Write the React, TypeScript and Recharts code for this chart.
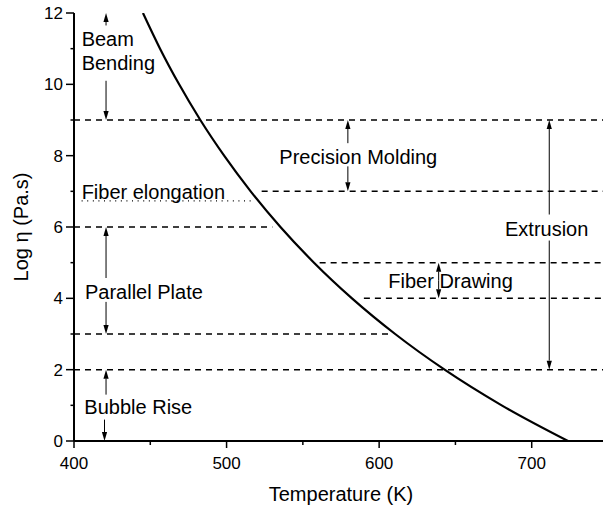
import React from 'react';
import { ComposedChart, Line, XAxis, YAxis, ReferenceLine, ReferenceDot } from 'recharts';

// viscosity curve
const temperature = [445.2, 456.4, 468.9, 482.8, 498.4, 515.8, 535.3, 557.3, 582.2, 610.5, 642.9, 680.3, 723.8];
const logViscosity = [12, 11, 10, 9, 8, 7, 6, 5, 4, 3, 2, 1, 0];

const xTicks = [400, 450, 500, 550, 600, 650, 700, 750];
const xMajor = [400, 500, 600, 700];
const yTicks = [0, 1, 2, 3, 4, 5, 6, 7, 8, 9, 10, 11, 12];
const yMajor = [0, 2, 4, 6, 8, 10, 12];

// dashed working-point levels
const dashLevel = [9, 7, 6, 5, 4, 3, 2];
const dashFrom = [400, 523, 400, 561, 590, 400, 400];
const dashTo = [750, 750, 530, 750, 750, 607, 750];

// fiber elongation (dotted)
const dotLevel = 6.73;
const dotFrom = 405;
const dotTo = 516.5;

// arrows: stem start -> tip
const arrowT = [421, 421, 421, 421, 421, 420, 579.5, 579.5, 639, 639, 711.5, 711.5];
const arrowFrom = [11.65, 10.1, 4.57, 3.9, 1.3, 0.6, 8.35, 7.7, 4.5, 4.5, 6.35, 5.62];
const arrowTo = [12, 9, 6, 3, 2, 0, 9, 7, 5, 4, 9, 2];

// annotation texts (left edge, vertical centre)
const noteText = ['Beam', 'Bending', 'Fiber elongation', 'Parallel Plate', 'Bubble Rise', 'Precision Molding', 'Fiber Drawing', 'Extrusion'];
const noteT = [405, 405, 405, 407.2, 406.8, 534.6, 606, 682.5];
const noteLog = [11.29, 10.61, 6.99, 4.19, 0.96, 7.97, 4.48, 5.96];

const data = temperature.map((t, i) => ({ T: t, v: logViscosity[i] }));

const FONT = '"Liberation Sans", Arial, Helvetica, sans-serif';

const BottomTick = ({ x, y, payload }: any) => {
  const major = xMajor.includes(payload.value);
  return (
    <g>
      <line x1={x} x2={x} y1={y} y2={y + (major ? 7 : 4)} stroke="#000" strokeWidth={1.5} />
      {major && (
        <text x={x} y={y + 28} textAnchor="middle" fontSize={17} fontFamily={FONT} fill="#000">
          {payload.value}
        </text>
      )}
    </g>
  );
};

const TopTick = ({ x, y, payload }: any) => {
  const major = xMajor.includes(payload.value);
  return <line x1={x} x2={x} y1={y} y2={y + (major ? 7 : 3.5)} stroke="#000" strokeWidth={1.5} />;
};

const LeftTick = ({ x, y, payload }: any) => {
  const major = yMajor.includes(payload.value);
  return (
    <g>
      <line x1={x - (major ? 8 : 3.5)} x2={x} y1={y} y2={y} stroke="#000" strokeWidth={1.5} />
      {major && (
        <text x={x - 11} y={y} dy="0.36em" textAnchor="end" fontSize={17} fontFamily={FONT} fill="#000">
          {payload.value}
        </text>
      )}
    </g>
  );
};

const RightTick = ({ x, y, payload }: any) => {
  const major = yMajor.includes(payload.value);
  return <line x1={x - (major ? 9 : 4)} x2={x} y1={y} y2={y} stroke="#000" strokeWidth={1.5} />;
};

const Arrow = (p: any) => {
  const { x1, y1, x2, y2 } = p;
  const dir = y2 < y1 ? -1 : 1;
  const base = y2 - dir * 9;
  return (
    <g>
      <line x1={x1} y1={y1} x2={x2} y2={base} stroke="#000" strokeWidth={1} />
      <polygon points={`${x2},${y2} ${x2 - 2.6},${base} ${x2 + 2.6},${base}`} fill="#000" />
    </g>
  );
};

const noteShape = (text: string) => (p: any) => (
  <text x={p.cx} y={p.cy} dy="0.36em" fontSize={20} fontFamily={FONT} fill="#000">
    {text}
  </text>
);

const XTitle = (p: any) => {
  const vb = p.viewBox;
  return (
    <text x={vb.x + vb.width / 2} y={vb.y + 60} textAnchor="middle" fontSize={20} fontFamily={FONT} fill="#000">
      Temperature (K)
    </text>
  );
};

const YTitle = (p: any) => {
  const vb = p.viewBox;
  const cx = vb.x + 28;
  const cy = vb.y + vb.height / 2;
  return (
    <text x={cx} y={cy} transform={`rotate(-90 ${cx} ${cy})`} textAnchor="middle" fontSize={20} fontFamily={FONT} fill="#000">
      Log η (Pa.s)
    </text>
  );
};

export default function App() {
  return (
    <div style={{ position: 'absolute', left: 0, top: 0, width: 603, height: 510, overflow: 'hidden', background: '#fff' }}>
      <ComposedChart width={620} height={510} data={data} margin={{ top: 13, right: 12, bottom: 0, left: 0 }}>
        <XAxis
          dataKey="T"
          type="number"
          domain={[400, 750]}
          allowDataOverflow
          ticks={xTicks}
          interval={0}
          height={69}
          tickSize={0}
          tickMargin={0}
          tickLine={false}
          tick={BottomTick}
          axisLine={{ stroke: '#000', strokeWidth: 2 }}
          label={XTitle}
        />
        <XAxis
          xAxisId="top"
          orientation="top"
          dataKey="T"
          type="number"
          domain={[400, 750]}
          allowDataOverflow
          ticks={xTicks}
          interval={0}
          height={0}
          tickSize={0}
          tickMargin={0}
          tickLine={false}
          tick={TopTick}
          axisLine={{ stroke: '#000', strokeWidth: 2 }}
        />
        <YAxis
          type="number"
          domain={[0, 12]}
          allowDataOverflow
          ticks={yTicks}
          interval={0}
          width={74}
          tickSize={0}
          tickMargin={0}
          tickLine={false}
          tick={LeftTick}
          axisLine={{ stroke: '#000', strokeWidth: 2 }}
          label={YTitle}
        />
        <YAxis
          yAxisId="right"
          orientation="right"
          type="number"
          domain={[0, 12]}
          allowDataOverflow
          ticks={yTicks}
          interval={0}
          width={0}
          tickSize={0}
          tickMargin={0}
          tickLine={false}
          tick={RightTick}
          axisLine={{ stroke: '#000', strokeWidth: 2 }}
        />
        {dashLevel.map((lv, i) => (
          <ReferenceLine
            key={`d${i}`}
            segment={[{ x: dashFrom[i], y: lv }, { x: dashTo[i], y: lv }]}
            stroke="#000"
            strokeWidth={1.5}
            strokeDasharray="6 5"
          />
        ))}
        <ReferenceLine
          segment={[{ x: dotFrom, y: dotLevel }, { x: dotTo, y: dotLevel }]}
          stroke="#000"
          strokeWidth={1.2}
          strokeDasharray="1 4.6"
        />
        {arrowT.map((t, i) => (
          <ReferenceLine
            key={`a${i}`}
            segment={[{ x: t, y: arrowFrom[i] }, { x: t, y: arrowTo[i] }]}
            shape={Arrow}
          />
        ))}
        {noteText.map((txt, i) => (
          <ReferenceDot key={`n${i}`} x={noteT[i]} y={noteLog[i]} r={0} shape={noteShape(txt)} />
        ))}
        <Line
          type="monotone"
          dataKey="v"
          stroke="#000"
          strokeWidth={2.2}
          dot={false}
          activeDot={false}
          isAnimationActive={false}
        />
      </ComposedChart>
    </div>
  );
}
